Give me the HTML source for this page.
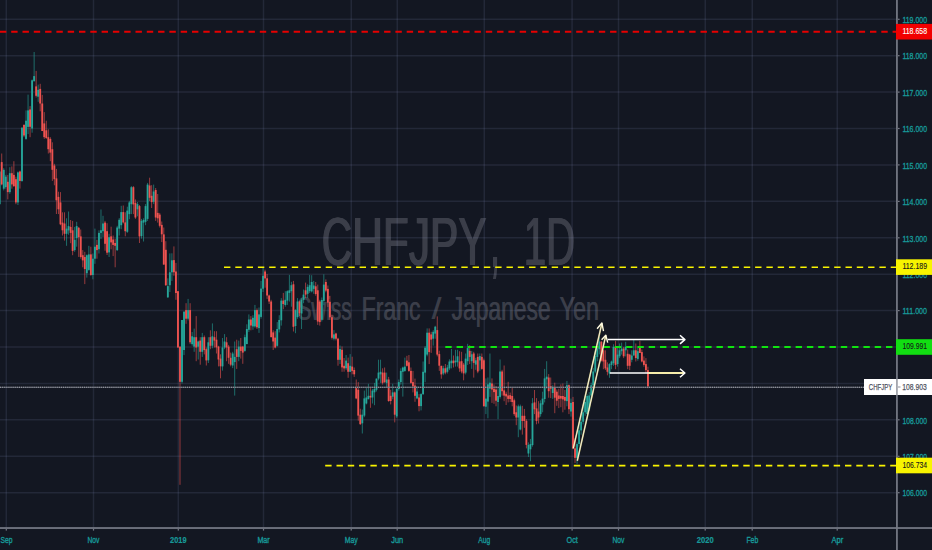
<!DOCTYPE html>
<html lang="en"><head><meta charset="utf-8"><title>CHFJPY 1D</title><style>html,body{margin:0;padding:0;background:#131722;overflow:hidden}body{width:932px;height:550px;font-family:"Liberation Sans",sans-serif}</style></head><body><svg width="932" height="550" viewBox="0 0 932 550" style="display:block">
<rect width="932" height="550" fill="#131722"/>
<text x="320.95" y="265.1" font-size="68.5" fill="#3b3e49" font-family="Liberation Sans, sans-serif" textLength="165.0" lengthAdjust="spacingAndGlyphs">CHFJPY</text>
<text x="321.6" y="265.1" font-size="68.5" fill="#3b3e49" font-family="Liberation Sans, sans-serif" textLength="165.0" lengthAdjust="spacingAndGlyphs">CHFJPY</text>
<text x="322.25" y="265.1" font-size="68.5" fill="#3b3e49" font-family="Liberation Sans, sans-serif" textLength="165.0" lengthAdjust="spacingAndGlyphs">CHFJPY</text>
<text x="490.1" y="267.0" font-size="92" fill="#3b3e49" font-family="Liberation Sans, sans-serif" textLength="9" lengthAdjust="spacingAndGlyphs">,</text>
<text x="491.1" y="267.0" font-size="92" fill="#3b3e49" font-family="Liberation Sans, sans-serif" textLength="9" lengthAdjust="spacingAndGlyphs">,</text>
<text x="523.15" y="265.1" font-size="68.5" fill="#3b3e49" font-family="Liberation Sans, sans-serif" textLength="51.2" lengthAdjust="spacingAndGlyphs">1D</text>
<text x="523.8" y="265.1" font-size="68.5" fill="#3b3e49" font-family="Liberation Sans, sans-serif" textLength="51.2" lengthAdjust="spacingAndGlyphs">1D</text>
<text x="524.45" y="265.1" font-size="68.5" fill="#3b3e49" font-family="Liberation Sans, sans-serif" textLength="51.2" lengthAdjust="spacingAndGlyphs">1D</text>
<text x="297.3" y="319.8" font-size="32.5" fill="#3b3e49" font-family="Liberation Sans, sans-serif" textLength="54.0" lengthAdjust="spacingAndGlyphs">Swiss</text>
<text x="297.9" y="319.8" font-size="32.5" fill="#3b3e49" font-family="Liberation Sans, sans-serif" textLength="54.0" lengthAdjust="spacingAndGlyphs">Swiss</text>
<text x="361.3" y="319.8" font-size="32.5" fill="#3b3e49" font-family="Liberation Sans, sans-serif" textLength="59.0" lengthAdjust="spacingAndGlyphs">Franc</text>
<text x="361.9" y="319.8" font-size="32.5" fill="#3b3e49" font-family="Liberation Sans, sans-serif" textLength="59.0" lengthAdjust="spacingAndGlyphs">Franc</text>
<text x="431.4" y="318.5" font-size="29" fill="#3b3e49" font-family="Liberation Sans, sans-serif" textLength="9.6" lengthAdjust="spacingAndGlyphs">/</text>
<text x="432.0" y="318.5" font-size="29" fill="#3b3e49" font-family="Liberation Sans, sans-serif" textLength="9.6" lengthAdjust="spacingAndGlyphs">/</text>
<text x="451.3" y="319.8" font-size="32.5" fill="#3b3e49" font-family="Liberation Sans, sans-serif" textLength="99.0" lengthAdjust="spacingAndGlyphs">Japanese</text>
<text x="451.9" y="319.8" font-size="32.5" fill="#3b3e49" font-family="Liberation Sans, sans-serif" textLength="99.0" lengthAdjust="spacingAndGlyphs">Japanese</text>
<text x="559.3" y="319.8" font-size="32.5" fill="#3b3e49" font-family="Liberation Sans, sans-serif" textLength="39.4" lengthAdjust="spacingAndGlyphs">Yen</text>
<text x="559.9" y="319.8" font-size="32.5" fill="#3b3e49" font-family="Liberation Sans, sans-serif" textLength="39.4" lengthAdjust="spacingAndGlyphs">Yen</text>
<g stroke="#8f9bd0" stroke-opacity="0.13" stroke-width="1.5">
<line x1="0" x2="897" y1="492.68" y2="492.68"/>
<line x1="0" x2="897" y1="456.26" y2="456.26"/>
<line x1="0" x2="897" y1="419.85" y2="419.85"/>
<line x1="0" x2="897" y1="383.44" y2="383.44"/>
<line x1="0" x2="897" y1="347.02" y2="347.02"/>
<line x1="0" x2="897" y1="310.61" y2="310.61"/>
<line x1="0" x2="897" y1="274.19" y2="274.19"/>
<line x1="0" x2="897" y1="237.77" y2="237.77"/>
<line x1="0" x2="897" y1="201.36" y2="201.36"/>
<line x1="0" x2="897" y1="164.94" y2="164.94"/>
<line x1="0" x2="897" y1="128.53" y2="128.53"/>
<line x1="0" x2="897" y1="92.12" y2="92.12"/>
<line x1="0" x2="897" y1="55.7" y2="55.7"/>
<line x1="0" x2="897" y1="19.29" y2="19.29"/>
<line x1="6.3" x2="6.3" y1="0" y2="528"/>
<line x1="93.5" x2="93.5" y1="0" y2="528"/>
<line x1="178.3" x2="178.3" y1="0" y2="528"/>
<line x1="263.5" x2="263.5" y1="0" y2="528"/>
<line x1="351.25" x2="351.25" y1="0" y2="528"/>
<line x1="397.25" x2="397.25" y1="0" y2="528"/>
<line x1="484.25" x2="484.25" y1="0" y2="528"/>
<line x1="572.1" x2="572.1" y1="0" y2="528"/>
<line x1="618.5" x2="618.5" y1="0" y2="528"/>
<line x1="705.25" x2="705.25" y1="0" y2="528"/>
<line x1="752.25" x2="752.25" y1="0" y2="528"/>
<line x1="837.25" x2="837.25" y1="0" y2="528"/>
</g>
<g opacity="0.6" shape-rendering="auto"><rect x="-0.81" y="171.5" width="1" height="33.5" fill="#26a69a"/><rect x="1.22" y="153.5" width="1" height="31.8" fill="#ef5350"/><rect x="3.25" y="168.1" width="1" height="22.3" fill="#26a69a"/><rect x="5.27" y="174.9" width="1" height="13.7" fill="#26a69a"/><rect x="7.30" y="174.9" width="1" height="24.5" fill="#ef5350"/><rect x="9.32" y="167.2" width="1" height="26.6" fill="#26a69a"/><rect x="11.35" y="166.4" width="1" height="22.3" fill="#ef5350"/><rect x="13.37" y="161.2" width="1" height="25.8" fill="#ef5350"/><rect x="15.40" y="176.7" width="1" height="27.5" fill="#ef5350"/><rect x="17.43" y="171.5" width="1" height="33.5" fill="#26a69a"/><rect x="19.45" y="170.6" width="1" height="18.0" fill="#ef5350"/><rect x="21.48" y="127.6" width="1" height="54.2" fill="#26a69a"/><rect x="23.50" y="124.1" width="1" height="13.0" fill="#ef5350"/><rect x="25.53" y="110.4" width="1" height="29.4" fill="#26a69a"/><rect x="27.56" y="94.6" width="1" height="39.5" fill="#26a69a"/><rect x="29.58" y="106.1" width="1" height="31.1" fill="#ef5350"/><rect x="31.61" y="79.5" width="1" height="53.2" fill="#26a69a"/><rect x="33.63" y="52.0" width="1" height="29.2" fill="#26a69a"/><rect x="35.66" y="70.9" width="1" height="26.6" fill="#ef5350"/><rect x="37.68" y="84.6" width="1" height="17.2" fill="#26a69a"/><rect x="39.71" y="83.8" width="1" height="27.5" fill="#ef5350"/><rect x="41.74" y="94.9" width="1" height="36.2" fill="#ef5350"/><rect x="43.76" y="112.1" width="1" height="26.8" fill="#ef5350"/><rect x="45.79" y="120.7" width="1" height="18.2" fill="#ef5350"/><rect x="47.81" y="129.3" width="1" height="24.2" fill="#ef5350"/><rect x="49.84" y="137.2" width="1" height="24.0" fill="#ef5350"/><rect x="51.86" y="142.3" width="1" height="38.6" fill="#ef5350"/><rect x="53.89" y="163.8" width="1" height="21.5" fill="#ef5350"/><rect x="55.92" y="168.9" width="1" height="45.1" fill="#ef5350"/><rect x="57.94" y="191.7" width="1" height="22.4" fill="#ef5350"/><rect x="59.97" y="192.1" width="1" height="33.1" fill="#ef5350"/><rect x="61.99" y="212.3" width="1" height="23.2" fill="#ef5350"/><rect x="64.02" y="212.3" width="1" height="28.3" fill="#ef5350"/><rect x="66.05" y="218.3" width="1" height="27.5" fill="#26a69a"/><rect x="68.07" y="211.5" width="1" height="23.2" fill="#26a69a"/><rect x="70.10" y="220.0" width="1" height="23.2" fill="#ef5350"/><rect x="72.12" y="220.9" width="1" height="34.3" fill="#ef5350"/><rect x="74.15" y="226.9" width="1" height="24.9" fill="#26a69a"/><rect x="76.17" y="221.8" width="1" height="24.9" fill="#26a69a"/><rect x="78.20" y="226.9" width="1" height="30.0" fill="#ef5350"/><rect x="80.23" y="229.5" width="1" height="29.2" fill="#ef5350"/><rect x="82.25" y="250.1" width="1" height="17.2" fill="#ef5350"/><rect x="84.28" y="251.8" width="1" height="32.3" fill="#ef5350"/><rect x="86.30" y="254.4" width="1" height="23.2" fill="#26a69a"/><rect x="88.33" y="245.8" width="1" height="24.9" fill="#26a69a"/><rect x="90.36" y="246.7" width="1" height="29.2" fill="#ef5350"/><rect x="92.38" y="253.5" width="1" height="25.8" fill="#26a69a"/><rect x="94.41" y="228.6" width="1" height="35.2" fill="#26a69a"/><rect x="96.43" y="239.8" width="1" height="18.9" fill="#ef5350"/><rect x="98.46" y="230.3" width="1" height="23.2" fill="#26a69a"/><rect x="100.48" y="209.5" width="1" height="29.4" fill="#26a69a"/><rect x="102.51" y="215.8" width="1" height="21.2" fill="#26a69a"/><rect x="104.54" y="220.9" width="1" height="29.8" fill="#ef5350"/><rect x="106.56" y="223.2" width="1" height="31.8" fill="#ef5350"/><rect x="108.59" y="233.8" width="1" height="23.2" fill="#26a69a"/><rect x="110.61" y="226.7" width="1" height="22.6" fill="#ef5350"/><rect x="112.64" y="235.5" width="1" height="20.6" fill="#ef5350"/><rect x="114.66" y="238.7" width="1" height="28.6" fill="#ef5350"/><rect x="116.69" y="225.8" width="1" height="25.2" fill="#26a69a"/><rect x="118.72" y="218.1" width="1" height="17.4" fill="#26a69a"/><rect x="120.74" y="205.8" width="1" height="23.4" fill="#26a69a"/><rect x="122.77" y="205.5" width="1" height="18.0" fill="#ef5350"/><rect x="124.79" y="212.3" width="1" height="24.0" fill="#ef5350"/><rect x="126.82" y="206.7" width="1" height="26.2" fill="#26a69a"/><rect x="128.85" y="200.9" width="1" height="18.3" fill="#26a69a"/><rect x="130.87" y="186.1" width="1" height="28.0" fill="#26a69a"/><rect x="132.90" y="186.1" width="1" height="28.0" fill="#ef5350"/><rect x="134.92" y="199.4" width="1" height="19.5" fill="#ef5350"/><rect x="136.95" y="202.0" width="1" height="14.3" fill="#26a69a"/><rect x="138.97" y="205.0" width="1" height="38.0" fill="#ef5350"/><rect x="141.00" y="218.9" width="1" height="19.7" fill="#26a69a"/><rect x="143.03" y="218.3" width="1" height="23.2" fill="#26a69a"/><rect x="145.05" y="204.1" width="1" height="21.1" fill="#26a69a"/><rect x="147.08" y="182.9" width="1" height="38.0" fill="#26a69a"/><rect x="149.10" y="177.7" width="1" height="23.4" fill="#ef5350"/><rect x="151.13" y="185.2" width="1" height="22.8" fill="#ef5350"/><rect x="153.15" y="184.6" width="1" height="19.5" fill="#26a69a"/><rect x="155.18" y="188.0" width="1" height="32.9" fill="#ef5350"/><rect x="157.21" y="194.0" width="1" height="28.6" fill="#ef5350"/><rect x="159.23" y="212.9" width="1" height="14.6" fill="#ef5350"/><rect x="161.26" y="221.5" width="1" height="20.6" fill="#ef5350"/><rect x="163.28" y="227.5" width="1" height="37.1" fill="#ef5350"/><rect x="165.31" y="241.2" width="1" height="44.8" fill="#ef5350"/><rect x="167.34" y="278.3" width="1" height="19.7" fill="#26a69a"/><rect x="169.36" y="253.4" width="1" height="38.6" fill="#26a69a"/><rect x="171.39" y="253.3" width="1" height="27.6" fill="#26a69a"/><rect x="173.41" y="246.4" width="1" height="29.4" fill="#ef5350"/><rect x="175.44" y="262.9" width="1" height="36.9" fill="#ef5350"/><rect x="177.46" y="291.2" width="1" height="56.3" fill="#ef5350"/><rect x="179.49" y="346.6" width="1" height="138.2" fill="#ef5350"/><rect x="181.52" y="320.0" width="1" height="63.5" fill="#26a69a"/><rect x="183.54" y="310.9" width="1" height="44.2" fill="#26a69a"/><rect x="185.57" y="303.2" width="1" height="20.6" fill="#ef5350"/><rect x="187.59" y="298.9" width="1" height="21.5" fill="#26a69a"/><rect x="189.62" y="303.2" width="1" height="40.9" fill="#ef5350"/><rect x="191.65" y="332.0" width="1" height="13.7" fill="#26a69a"/><rect x="193.67" y="328.6" width="1" height="23.2" fill="#26a69a"/><rect x="195.70" y="316.1" width="1" height="45.1" fill="#ef5350"/><rect x="197.72" y="340.6" width="1" height="18.9" fill="#26a69a"/><rect x="199.75" y="337.2" width="1" height="27.5" fill="#ef5350"/><rect x="201.77" y="332.9" width="1" height="24.0" fill="#26a69a"/><rect x="203.80" y="335.5" width="1" height="18.9" fill="#ef5350"/><rect x="205.83" y="347.5" width="1" height="18.0" fill="#ef5350"/><rect x="207.85" y="337.2" width="1" height="25.8" fill="#26a69a"/><rect x="209.88" y="330.3" width="1" height="18.9" fill="#ef5350"/><rect x="211.90" y="323.4" width="1" height="24.9" fill="#26a69a"/><rect x="213.93" y="331.2" width="1" height="16.3" fill="#ef5350"/><rect x="215.95" y="331.2" width="1" height="22.3" fill="#ef5350"/><rect x="217.98" y="345.8" width="1" height="20.6" fill="#ef5350"/><rect x="220.01" y="354.3" width="1" height="24.0" fill="#ef5350"/><rect x="222.03" y="338.0" width="1" height="32.6" fill="#26a69a"/><rect x="224.06" y="334.1" width="1" height="15.1" fill="#26a69a"/><rect x="226.08" y="337.2" width="1" height="24.0" fill="#ef5350"/><rect x="228.11" y="344.9" width="1" height="18.9" fill="#ef5350"/><rect x="230.14" y="352.6" width="1" height="13.7" fill="#ef5350"/><rect x="232.16" y="351.8" width="1" height="16.3" fill="#26a69a"/><rect x="234.19" y="341.5" width="1" height="54.1" fill="#26a69a"/><rect x="236.21" y="339.7" width="1" height="29.2" fill="#ef5350"/><rect x="238.24" y="340.6" width="1" height="20.6" fill="#26a69a"/><rect x="240.26" y="338.0" width="1" height="20.6" fill="#ef5350"/><rect x="242.29" y="345.8" width="1" height="18.0" fill="#ef5350"/><rect x="244.32" y="334.6" width="1" height="17.2" fill="#26a69a"/><rect x="246.34" y="324.3" width="1" height="19.8" fill="#26a69a"/><rect x="248.37" y="314.4" width="1" height="17.6" fill="#26a69a"/><rect x="250.39" y="316.1" width="1" height="14.2" fill="#ef5350"/><rect x="252.42" y="315.2" width="1" height="14.6" fill="#26a69a"/><rect x="254.44" y="304.9" width="1" height="22.8" fill="#26a69a"/><rect x="256.47" y="308.4" width="1" height="20.6" fill="#ef5350"/><rect x="258.50" y="307.5" width="1" height="25.4" fill="#26a69a"/><rect x="260.52" y="280.9" width="1" height="37.8" fill="#26a69a"/><rect x="262.55" y="268.0" width="1" height="24.0" fill="#26a69a"/><rect x="264.57" y="269.7" width="1" height="18.0" fill="#ef5350"/><rect x="266.60" y="274.0" width="1" height="24.9" fill="#ef5350"/><rect x="268.63" y="294.6" width="1" height="9.4" fill="#ef5350"/><rect x="270.65" y="299.8" width="1" height="37.4" fill="#ef5350"/><rect x="272.68" y="330.3" width="1" height="19.7" fill="#ef5350"/><rect x="274.70" y="331.2" width="1" height="17.2" fill="#ef5350"/><rect x="276.73" y="322.1" width="1" height="24.5" fill="#26a69a"/><rect x="278.75" y="315.2" width="1" height="17.2" fill="#26a69a"/><rect x="280.78" y="298.1" width="1" height="27.5" fill="#26a69a"/><rect x="282.81" y="292.9" width="1" height="16.3" fill="#ef5350"/><rect x="284.83" y="291.2" width="1" height="15.5" fill="#26a69a"/><rect x="286.86" y="290.3" width="1" height="14.6" fill="#26a69a"/><rect x="288.88" y="274.9" width="1" height="26.6" fill="#26a69a"/><rect x="290.91" y="281.8" width="1" height="24.9" fill="#26a69a"/><rect x="292.94" y="280.9" width="1" height="50.6" fill="#ef5350"/><rect x="294.96" y="309.2" width="1" height="24.0" fill="#26a69a"/><rect x="296.99" y="298.1" width="1" height="20.6" fill="#26a69a"/><rect x="299.01" y="300.6" width="1" height="15.5" fill="#ef5350"/><rect x="301.04" y="298.1" width="1" height="30.9" fill="#26a69a"/><rect x="303.06" y="289.5" width="1" height="13.7" fill="#26a69a"/><rect x="305.09" y="282.6" width="1" height="15.5" fill="#ef5350"/><rect x="307.12" y="284.3" width="1" height="13.7" fill="#26a69a"/><rect x="309.14" y="274.9" width="1" height="18.0" fill="#26a69a"/><rect x="311.17" y="275.2" width="1" height="17.2" fill="#26a69a"/><rect x="313.19" y="280.9" width="1" height="12.9" fill="#26a69a"/><rect x="315.22" y="282.0" width="1" height="13.7" fill="#ef5350"/><rect x="317.24" y="284.6" width="1" height="40.3" fill="#ef5350"/><rect x="319.27" y="299.8" width="1" height="25.8" fill="#ef5350"/><rect x="321.30" y="297.5" width="1" height="24.0" fill="#26a69a"/><rect x="323.32" y="274.3" width="1" height="30.9" fill="#26a69a"/><rect x="325.35" y="279.4" width="1" height="12.9" fill="#ef5350"/><rect x="327.37" y="285.5" width="1" height="21.5" fill="#ef5350"/><rect x="329.40" y="295.8" width="1" height="24.0" fill="#ef5350"/><rect x="331.43" y="314.6" width="1" height="24.9" fill="#ef5350"/><rect x="333.45" y="330.1" width="1" height="10.3" fill="#26a69a"/><rect x="335.48" y="332.7" width="1" height="7.7" fill="#ef5350"/><rect x="337.50" y="337.8" width="1" height="27.9" fill="#ef5350"/><rect x="339.53" y="345.5" width="1" height="18.5" fill="#26a69a"/><rect x="341.55" y="346.4" width="1" height="25.4" fill="#ef5350"/><rect x="343.58" y="358.0" width="1" height="13.7" fill="#ef5350"/><rect x="345.61" y="355.0" width="1" height="15.1" fill="#26a69a"/><rect x="347.63" y="357.6" width="1" height="20.2" fill="#ef5350"/><rect x="349.66" y="354.1" width="1" height="17.6" fill="#26a69a"/><rect x="351.68" y="356.7" width="1" height="17.6" fill="#ef5350"/><rect x="353.71" y="367.5" width="1" height="9.4" fill="#ef5350"/><rect x="355.74" y="379.5" width="1" height="19.7" fill="#ef5350"/><rect x="357.76" y="382.1" width="1" height="38.6" fill="#ef5350"/><rect x="359.79" y="408.7" width="1" height="16.3" fill="#ef5350"/><rect x="361.81" y="409.5" width="1" height="24.0" fill="#26a69a"/><rect x="363.84" y="390.6" width="1" height="26.6" fill="#26a69a"/><rect x="365.86" y="388.1" width="1" height="16.3" fill="#26a69a"/><rect x="367.89" y="383.8" width="1" height="15.5" fill="#26a69a"/><rect x="369.92" y="388.1" width="1" height="19.7" fill="#ef5350"/><rect x="371.94" y="388.9" width="1" height="14.6" fill="#26a69a"/><rect x="373.97" y="382.9" width="1" height="22.3" fill="#26a69a"/><rect x="375.99" y="378.6" width="1" height="12.9" fill="#26a69a"/><rect x="378.02" y="359.7" width="1" height="20.6" fill="#26a69a"/><rect x="380.04" y="359.7" width="1" height="23.2" fill="#26a69a"/><rect x="382.07" y="368.3" width="1" height="16.3" fill="#ef5350"/><rect x="384.10" y="367.5" width="1" height="15.5" fill="#ef5350"/><rect x="386.12" y="372.6" width="1" height="14.6" fill="#26a69a"/><rect x="388.15" y="376.9" width="1" height="24.9" fill="#ef5350"/><rect x="390.17" y="389.8" width="1" height="14.6" fill="#ef5350"/><rect x="392.20" y="383.8" width="1" height="15.5" fill="#26a69a"/><rect x="394.23" y="391.5" width="1" height="30.9" fill="#ef5350"/><rect x="396.25" y="388.1" width="1" height="30.0" fill="#26a69a"/><rect x="398.28" y="379.5" width="1" height="11.2" fill="#26a69a"/><rect x="400.30" y="368.3" width="1" height="16.3" fill="#26a69a"/><rect x="402.33" y="366.6" width="1" height="30.0" fill="#26a69a"/><rect x="404.35" y="357.6" width="1" height="14.2" fill="#26a69a"/><rect x="406.38" y="355.8" width="1" height="10.8" fill="#ef5350"/><rect x="408.41" y="355.0" width="1" height="16.8" fill="#ef5350"/><rect x="410.43" y="367.5" width="1" height="16.3" fill="#ef5350"/><rect x="412.46" y="370.9" width="1" height="21.5" fill="#ef5350"/><rect x="414.48" y="378.6" width="1" height="23.2" fill="#ef5350"/><rect x="416.51" y="386.4" width="1" height="12.9" fill="#26a69a"/><rect x="418.53" y="394.1" width="1" height="17.2" fill="#ef5350"/><rect x="420.56" y="393.2" width="1" height="17.2" fill="#26a69a"/><rect x="422.59" y="361.5" width="1" height="33.5" fill="#26a69a"/><rect x="424.61" y="346.0" width="1" height="36.1" fill="#26a69a"/><rect x="426.64" y="328.4" width="1" height="27.9" fill="#26a69a"/><rect x="428.66" y="328.4" width="1" height="35.7" fill="#ef5350"/><rect x="430.69" y="331.8" width="1" height="21.1" fill="#ef5350"/><rect x="432.72" y="330.1" width="1" height="15.5" fill="#26a69a"/><rect x="434.74" y="325.8" width="1" height="12.9" fill="#26a69a"/><rect x="436.77" y="316.4" width="1" height="40.0" fill="#ef5350"/><rect x="438.79" y="350.7" width="1" height="20.2" fill="#ef5350"/><rect x="440.82" y="365.8" width="1" height="12.9" fill="#ef5350"/><rect x="442.84" y="365.8" width="1" height="9.4" fill="#26a69a"/><rect x="444.87" y="364.0" width="1" height="10.3" fill="#ef5350"/><rect x="446.90" y="364.9" width="1" height="8.6" fill="#26a69a"/><rect x="448.92" y="359.3" width="1" height="10.8" fill="#26a69a"/><rect x="450.95" y="349.0" width="1" height="19.4" fill="#26a69a"/><rect x="452.97" y="355.5" width="1" height="12.0" fill="#ef5350"/><rect x="455.00" y="349.8" width="1" height="16.8" fill="#26a69a"/><rect x="457.02" y="349.8" width="1" height="16.8" fill="#26a69a"/><rect x="459.05" y="351.2" width="1" height="20.6" fill="#ef5350"/><rect x="461.08" y="351.8" width="1" height="21.5" fill="#ef5350"/><rect x="463.10" y="362.9" width="1" height="17.4" fill="#ef5350"/><rect x="465.13" y="353.5" width="1" height="20.9" fill="#26a69a"/><rect x="467.15" y="343.8" width="1" height="21.1" fill="#26a69a"/><rect x="469.18" y="345.2" width="1" height="18.9" fill="#ef5350"/><rect x="471.21" y="350.9" width="1" height="18.0" fill="#26a69a"/><rect x="473.23" y="351.8" width="1" height="25.8" fill="#ef5350"/><rect x="475.26" y="357.8" width="1" height="12.0" fill="#26a69a"/><rect x="477.28" y="353.5" width="1" height="19.7" fill="#ef5350"/><rect x="479.31" y="353.5" width="1" height="17.2" fill="#26a69a"/><rect x="481.33" y="353.5" width="1" height="16.3" fill="#ef5350"/><rect x="483.36" y="358.6" width="1" height="47.7" fill="#ef5350"/><rect x="485.39" y="378.4" width="1" height="35.7" fill="#26a69a"/><rect x="487.41" y="377.5" width="1" height="40.8" fill="#26a69a"/><rect x="489.44" y="353.5" width="1" height="43.4" fill="#26a69a"/><rect x="491.46" y="378.4" width="1" height="24.5" fill="#ef5350"/><rect x="493.49" y="384.4" width="1" height="19.4" fill="#ef5350"/><rect x="495.52" y="386.1" width="1" height="20.2" fill="#ef5350"/><rect x="497.54" y="387.8" width="1" height="31.4" fill="#26a69a"/><rect x="499.57" y="359.5" width="1" height="39.1" fill="#26a69a"/><rect x="501.59" y="369.8" width="1" height="25.8" fill="#ef5350"/><rect x="503.62" y="365.5" width="1" height="35.7" fill="#ef5350"/><rect x="505.64" y="391.7" width="1" height="13.3" fill="#ef5350"/><rect x="507.67" y="381.8" width="1" height="20.6" fill="#ef5350"/><rect x="509.70" y="392.6" width="1" height="9.4" fill="#ef5350"/><rect x="511.72" y="387.8" width="1" height="18.5" fill="#ef5350"/><rect x="513.75" y="398.6" width="1" height="17.2" fill="#ef5350"/><rect x="515.77" y="405.5" width="1" height="19.7" fill="#ef5350"/><rect x="517.80" y="404.6" width="1" height="32.6" fill="#26a69a"/><rect x="519.82" y="404.6" width="1" height="25.8" fill="#26a69a"/><rect x="521.85" y="405.8" width="1" height="28.8" fill="#ef5350"/><rect x="523.88" y="408.9" width="1" height="18.9" fill="#ef5350"/><rect x="525.90" y="419.2" width="1" height="29.2" fill="#ef5350"/><rect x="527.93" y="442.4" width="1" height="14.6" fill="#26a69a"/><rect x="529.95" y="438.9" width="1" height="22.3" fill="#26a69a"/><rect x="531.98" y="398.1" width="1" height="48.5" fill="#26a69a"/><rect x="534.01" y="390.0" width="1" height="24.1" fill="#ef5350"/><rect x="536.03" y="398.1" width="1" height="26.2" fill="#ef5350"/><rect x="538.06" y="401.2" width="1" height="22.3" fill="#ef5350"/><rect x="540.08" y="400.3" width="1" height="16.3" fill="#26a69a"/><rect x="542.11" y="391.7" width="1" height="20.6" fill="#26a69a"/><rect x="544.13" y="368.9" width="1" height="33.5" fill="#26a69a"/><rect x="546.16" y="361.2" width="1" height="27.5" fill="#26a69a"/><rect x="548.19" y="374.1" width="1" height="23.6" fill="#ef5350"/><rect x="550.21" y="377.5" width="1" height="20.6" fill="#ef5350"/><rect x="552.24" y="385.2" width="1" height="13.7" fill="#26a69a"/><rect x="554.26" y="382.7" width="1" height="30.5" fill="#ef5350"/><rect x="556.29" y="389.5" width="1" height="16.3" fill="#ef5350"/><rect x="558.31" y="388.7" width="1" height="19.4" fill="#ef5350"/><rect x="560.34" y="384.4" width="1" height="22.8" fill="#ef5350"/><rect x="562.37" y="383.5" width="1" height="28.8" fill="#ef5350"/><rect x="564.39" y="390.0" width="1" height="19.7" fill="#ef5350"/><rect x="566.42" y="380.9" width="1" height="25.4" fill="#26a69a"/><rect x="568.44" y="384.4" width="1" height="29.7" fill="#ef5350"/><rect x="570.47" y="398.6" width="1" height="18.0" fill="#26a69a"/><rect x="572.50" y="396.9" width="1" height="52.4" fill="#ef5350"/><rect x="574.52" y="438.1" width="1" height="24.9" fill="#ef5350"/><rect x="576.55" y="442.4" width="1" height="21.5" fill="#26a69a"/><rect x="578.57" y="424.3" width="1" height="22.3" fill="#26a69a"/><rect x="580.60" y="415.8" width="1" height="18.9" fill="#26a69a"/><rect x="582.62" y="407.2" width="1" height="17.2" fill="#26a69a"/><rect x="584.65" y="398.6" width="1" height="17.2" fill="#26a69a"/><rect x="586.68" y="394.3" width="1" height="19.8" fill="#26a69a"/><rect x="588.70" y="392.1" width="1" height="18.9" fill="#26a69a"/><rect x="590.73" y="382.7" width="1" height="18.0" fill="#26a69a"/><rect x="592.75" y="368.1" width="1" height="20.6" fill="#26a69a"/><rect x="594.78" y="350.9" width="1" height="22.3" fill="#26a69a"/><rect x="596.81" y="345.8" width="1" height="15.5" fill="#26a69a"/><rect x="598.83" y="337.2" width="1" height="17.2" fill="#26a69a"/><rect x="600.86" y="340.9" width="1" height="20.6" fill="#ef5350"/><rect x="602.88" y="349.5" width="1" height="19.7" fill="#ef5350"/><rect x="604.91" y="350.3" width="1" height="19.7" fill="#ef5350"/><rect x="606.93" y="362.4" width="1" height="12.9" fill="#ef5350"/><rect x="608.96" y="363.2" width="1" height="14.6" fill="#26a69a"/><rect x="610.99" y="360.6" width="1" height="8.6" fill="#26a69a"/><rect x="613.01" y="344.3" width="1" height="21.5" fill="#26a69a"/><rect x="615.04" y="340.9" width="1" height="28.3" fill="#ef5350"/><rect x="617.06" y="346.9" width="1" height="19.7" fill="#26a69a"/><rect x="619.09" y="343.5" width="1" height="14.6" fill="#26a69a"/><rect x="621.11" y="342.6" width="1" height="12.0" fill="#26a69a"/><rect x="623.14" y="346.9" width="1" height="11.2" fill="#ef5350"/><rect x="625.17" y="341.8" width="1" height="14.6" fill="#26a69a"/><rect x="627.19" y="349.5" width="1" height="19.7" fill="#ef5350"/><rect x="629.22" y="353.8" width="1" height="16.3" fill="#ef5350"/><rect x="631.24" y="350.3" width="1" height="12.0" fill="#26a69a"/><rect x="633.27" y="340.0" width="1" height="15.5" fill="#26a69a"/><rect x="635.30" y="343.5" width="1" height="18.0" fill="#ef5350"/><rect x="637.32" y="347.8" width="1" height="12.9" fill="#26a69a"/><rect x="639.35" y="340.9" width="1" height="12.0" fill="#ef5350"/><rect x="641.37" y="349.5" width="1" height="12.9" fill="#ef5350"/><rect x="643.40" y="356.4" width="1" height="10.3" fill="#ef5350"/><rect x="645.42" y="358.1" width="1" height="14.6" fill="#ef5350"/><rect x="647.45" y="366.7" width="1" height="21.5" fill="#ef5350"/></g>
<g><rect x="-1.23" y="171.5" width="1.84" height="32.6" fill="#26a69a"/><rect x="0.80" y="162.1" width="1.84" height="22.3" fill="#ef5350"/><rect x="2.83" y="169.8" width="1.84" height="18.9" fill="#26a69a"/><rect x="4.85" y="176.7" width="1.84" height="10.3" fill="#26a69a"/><rect x="6.88" y="181.8" width="1.84" height="10.3" fill="#ef5350"/><rect x="8.90" y="173.2" width="1.84" height="18.9" fill="#26a69a"/><rect x="10.93" y="173.2" width="1.84" height="11.2" fill="#ef5350"/><rect x="12.95" y="174.9" width="1.84" height="11.2" fill="#ef5350"/><rect x="14.98" y="179.2" width="1.84" height="23.2" fill="#ef5350"/><rect x="17.01" y="172.4" width="1.84" height="30.0" fill="#26a69a"/><rect x="19.03" y="171.5" width="1.84" height="9.4" fill="#ef5350"/><rect x="21.06" y="127.6" width="1.84" height="53.4" fill="#26a69a"/><rect x="23.08" y="125.0" width="1.84" height="10.5" fill="#ef5350"/><rect x="25.11" y="120.7" width="1.84" height="18.2" fill="#26a69a"/><rect x="27.14" y="110.4" width="1.84" height="16.5" fill="#26a69a"/><rect x="29.16" y="109.5" width="1.84" height="17.3" fill="#ef5350"/><rect x="31.19" y="80.3" width="1.84" height="48.2" fill="#26a69a"/><rect x="33.21" y="76.1" width="1.84" height="5.2" fill="#26a69a"/><rect x="35.24" y="86.4" width="1.84" height="9.4" fill="#ef5350"/><rect x="37.26" y="89.8" width="1.84" height="6.9" fill="#26a69a"/><rect x="39.29" y="88.9" width="1.84" height="14.6" fill="#ef5350"/><rect x="41.32" y="103.5" width="1.84" height="27.5" fill="#ef5350"/><rect x="43.34" y="123.4" width="1.84" height="13.7" fill="#ef5350"/><rect x="45.37" y="130.3" width="1.84" height="7.7" fill="#ef5350"/><rect x="47.39" y="137.2" width="1.84" height="12.0" fill="#ef5350"/><rect x="49.42" y="138.9" width="1.84" height="13.7" fill="#ef5350"/><rect x="51.44" y="149.2" width="1.84" height="20.6" fill="#ef5350"/><rect x="53.47" y="165.5" width="1.84" height="13.7" fill="#ef5350"/><rect x="55.50" y="178.4" width="1.84" height="21.9" fill="#ef5350"/><rect x="57.52" y="196.9" width="1.84" height="12.4" fill="#ef5350"/><rect x="59.55" y="202.4" width="1.84" height="21.9" fill="#ef5350"/><rect x="61.57" y="222.6" width="1.84" height="7.7" fill="#ef5350"/><rect x="63.60" y="223.5" width="1.84" height="10.3" fill="#ef5350"/><rect x="65.63" y="228.6" width="1.84" height="5.2" fill="#26a69a"/><rect x="67.65" y="226.1" width="1.84" height="4.3" fill="#26a69a"/><rect x="69.68" y="226.9" width="1.84" height="6.0" fill="#ef5350"/><rect x="71.70" y="230.3" width="1.84" height="20.6" fill="#ef5350"/><rect x="73.73" y="239.8" width="1.84" height="10.3" fill="#26a69a"/><rect x="75.75" y="226.1" width="1.84" height="12.0" fill="#26a69a"/><rect x="77.78" y="227.8" width="1.84" height="9.4" fill="#ef5350"/><rect x="79.81" y="236.4" width="1.84" height="20.6" fill="#ef5350"/><rect x="81.83" y="255.2" width="1.84" height="5.2" fill="#ef5350"/><rect x="83.86" y="257.0" width="1.84" height="12.0" fill="#ef5350"/><rect x="85.88" y="255.2" width="1.84" height="18.0" fill="#26a69a"/><rect x="87.91" y="254.4" width="1.84" height="15.5" fill="#26a69a"/><rect x="89.94" y="254.4" width="1.84" height="20.6" fill="#ef5350"/><rect x="91.96" y="258.7" width="1.84" height="16.3" fill="#26a69a"/><rect x="93.99" y="246.7" width="1.84" height="12.0" fill="#26a69a"/><rect x="96.01" y="244.9" width="1.84" height="5.2" fill="#ef5350"/><rect x="98.04" y="232.9" width="1.84" height="16.3" fill="#26a69a"/><rect x="100.06" y="230.3" width="1.84" height="2.6" fill="#26a69a"/><rect x="102.09" y="223.5" width="1.84" height="7.7" fill="#26a69a"/><rect x="104.12" y="222.6" width="1.84" height="21.2" fill="#ef5350"/><rect x="106.14" y="231.2" width="1.84" height="21.5" fill="#ef5350"/><rect x="108.17" y="237.2" width="1.84" height="15.2" fill="#26a69a"/><rect x="110.19" y="236.4" width="1.84" height="6.0" fill="#ef5350"/><rect x="112.22" y="239.5" width="1.84" height="5.4" fill="#ef5350"/><rect x="114.24" y="243.0" width="1.84" height="2.8" fill="#ef5350"/><rect x="116.27" y="227.5" width="1.84" height="22.6" fill="#26a69a"/><rect x="118.30" y="219.8" width="1.84" height="8.8" fill="#26a69a"/><rect x="120.32" y="212.1" width="1.84" height="13.1" fill="#26a69a"/><rect x="122.35" y="212.1" width="1.84" height="10.3" fill="#ef5350"/><rect x="124.37" y="222.4" width="1.84" height="8.8" fill="#ef5350"/><rect x="126.40" y="210.6" width="1.84" height="21.2" fill="#26a69a"/><rect x="128.43" y="202.4" width="1.84" height="11.7" fill="#26a69a"/><rect x="130.45" y="187.2" width="1.84" height="17.0" fill="#26a69a"/><rect x="132.48" y="187.2" width="1.84" height="17.2" fill="#ef5350"/><rect x="134.50" y="202.9" width="1.84" height="14.6" fill="#ef5350"/><rect x="136.53" y="204.1" width="1.84" height="5.2" fill="#26a69a"/><rect x="138.55" y="206.1" width="1.84" height="30.3" fill="#ef5350"/><rect x="140.58" y="220.9" width="1.84" height="15.2" fill="#26a69a"/><rect x="142.61" y="220.0" width="1.84" height="2.6" fill="#26a69a"/><rect x="144.63" y="206.1" width="1.84" height="15.7" fill="#26a69a"/><rect x="146.66" y="184.6" width="1.84" height="34.3" fill="#26a69a"/><rect x="148.68" y="185.5" width="1.84" height="12.3" fill="#ef5350"/><rect x="150.71" y="195.8" width="1.84" height="6.3" fill="#ef5350"/><rect x="152.73" y="191.5" width="1.84" height="10.3" fill="#26a69a"/><rect x="154.76" y="190.0" width="1.84" height="27.5" fill="#ef5350"/><rect x="156.79" y="212.9" width="1.84" height="5.4" fill="#ef5350"/><rect x="158.81" y="214.6" width="1.84" height="11.2" fill="#ef5350"/><rect x="160.84" y="224.9" width="1.84" height="9.4" fill="#ef5350"/><rect x="162.86" y="234.4" width="1.84" height="30.2" fill="#ef5350"/><rect x="164.89" y="249.8" width="1.84" height="35.4" fill="#ef5350"/><rect x="166.92" y="286.1" width="1.84" height="11.2" fill="#26a69a"/><rect x="168.94" y="272.3" width="1.84" height="12.9" fill="#26a69a"/><rect x="170.97" y="260.3" width="1.84" height="12.0" fill="#26a69a"/><rect x="172.99" y="260.1" width="1.84" height="12.2" fill="#ef5350"/><rect x="175.02" y="271.5" width="1.84" height="21.5" fill="#ef5350"/><rect x="177.04" y="291.2" width="1.84" height="56.3" fill="#ef5350"/><rect x="179.07" y="346.6" width="1.84" height="35.2" fill="#ef5350"/><rect x="181.10" y="320.0" width="1.84" height="61.8" fill="#26a69a"/><rect x="183.12" y="311.8" width="1.84" height="38.2" fill="#26a69a"/><rect x="185.15" y="310.1" width="1.84" height="8.6" fill="#ef5350"/><rect x="187.17" y="310.1" width="1.84" height="8.6" fill="#26a69a"/><rect x="189.20" y="310.1" width="1.84" height="32.2" fill="#ef5350"/><rect x="191.23" y="336.3" width="1.84" height="7.8" fill="#26a69a"/><rect x="193.25" y="337.2" width="1.84" height="9.4" fill="#26a69a"/><rect x="195.28" y="337.2" width="1.84" height="10.3" fill="#ef5350"/><rect x="197.30" y="341.5" width="1.84" height="5.2" fill="#26a69a"/><rect x="199.33" y="340.6" width="1.84" height="11.2" fill="#ef5350"/><rect x="201.35" y="337.2" width="1.84" height="14.6" fill="#26a69a"/><rect x="203.38" y="337.2" width="1.84" height="12.9" fill="#ef5350"/><rect x="205.41" y="349.2" width="1.84" height="11.2" fill="#ef5350"/><rect x="207.43" y="342.3" width="1.84" height="18.0" fill="#26a69a"/><rect x="209.46" y="337.2" width="1.84" height="8.6" fill="#ef5350"/><rect x="211.48" y="336.3" width="1.84" height="9.4" fill="#26a69a"/><rect x="213.51" y="337.2" width="1.84" height="3.4" fill="#ef5350"/><rect x="215.53" y="339.7" width="1.84" height="7.7" fill="#ef5350"/><rect x="217.56" y="346.6" width="1.84" height="12.9" fill="#ef5350"/><rect x="219.59" y="358.6" width="1.84" height="7.7" fill="#ef5350"/><rect x="221.61" y="347.5" width="1.84" height="18.9" fill="#26a69a"/><rect x="223.64" y="341.5" width="1.84" height="6.0" fill="#26a69a"/><rect x="225.66" y="342.3" width="1.84" height="5.2" fill="#ef5350"/><rect x="227.69" y="346.6" width="1.84" height="11.2" fill="#ef5350"/><rect x="229.72" y="357.8" width="1.84" height="6.9" fill="#ef5350"/><rect x="231.74" y="353.5" width="1.84" height="12.0" fill="#26a69a"/><rect x="233.77" y="356.9" width="1.84" height="5.2" fill="#26a69a"/><rect x="235.79" y="349.2" width="1.84" height="7.7" fill="#ef5350"/><rect x="237.82" y="346.6" width="1.84" height="10.3" fill="#26a69a"/><rect x="239.84" y="346.6" width="1.84" height="4.3" fill="#ef5350"/><rect x="241.87" y="346.6" width="1.84" height="6.0" fill="#ef5350"/><rect x="243.90" y="337.2" width="1.84" height="13.7" fill="#26a69a"/><rect x="245.92" y="329.0" width="1.84" height="15.1" fill="#26a69a"/><rect x="247.95" y="319.5" width="1.84" height="10.3" fill="#26a69a"/><rect x="249.97" y="319.5" width="1.84" height="6.0" fill="#ef5350"/><rect x="252.00" y="317.8" width="1.84" height="8.6" fill="#26a69a"/><rect x="254.02" y="310.1" width="1.84" height="16.3" fill="#26a69a"/><rect x="256.05" y="310.1" width="1.84" height="17.2" fill="#ef5350"/><rect x="258.08" y="314.4" width="1.84" height="13.7" fill="#26a69a"/><rect x="260.10" y="288.6" width="1.84" height="28.3" fill="#26a69a"/><rect x="262.13" y="275.8" width="1.84" height="12.9" fill="#26a69a"/><rect x="264.15" y="271.5" width="1.84" height="6.9" fill="#ef5350"/><rect x="266.18" y="278.3" width="1.84" height="17.2" fill="#ef5350"/><rect x="268.21" y="295.5" width="1.84" height="6.0" fill="#ef5350"/><rect x="270.23" y="301.5" width="1.84" height="35.7" fill="#ef5350"/><rect x="272.26" y="332.4" width="1.84" height="9.1" fill="#ef5350"/><rect x="274.28" y="337.6" width="1.84" height="9.9" fill="#ef5350"/><rect x="276.31" y="329.0" width="1.84" height="16.8" fill="#26a69a"/><rect x="278.33" y="320.0" width="1.84" height="9.4" fill="#26a69a"/><rect x="280.36" y="300.6" width="1.84" height="19.7" fill="#26a69a"/><rect x="282.39" y="300.6" width="1.84" height="3.4" fill="#ef5350"/><rect x="284.41" y="299.8" width="1.84" height="5.2" fill="#26a69a"/><rect x="286.44" y="291.2" width="1.84" height="9.4" fill="#26a69a"/><rect x="288.46" y="290.3" width="1.84" height="2.6" fill="#26a69a"/><rect x="290.49" y="285.2" width="1.84" height="6.0" fill="#26a69a"/><rect x="292.52" y="284.3" width="1.84" height="42.5" fill="#ef5350"/><rect x="294.54" y="310.1" width="1.84" height="15.9" fill="#26a69a"/><rect x="296.57" y="301.5" width="1.84" height="15.5" fill="#26a69a"/><rect x="298.59" y="301.5" width="1.84" height="12.0" fill="#ef5350"/><rect x="300.62" y="299.8" width="1.84" height="13.7" fill="#26a69a"/><rect x="302.64" y="294.6" width="1.84" height="5.2" fill="#26a69a"/><rect x="304.67" y="290.3" width="1.84" height="4.3" fill="#ef5350"/><rect x="306.70" y="286.9" width="1.84" height="6.9" fill="#26a69a"/><rect x="308.72" y="285.2" width="1.84" height="6.0" fill="#26a69a"/><rect x="310.75" y="282.0" width="1.84" height="9.4" fill="#26a69a"/><rect x="312.77" y="285.5" width="1.84" height="3.4" fill="#26a69a"/><rect x="314.80" y="286.3" width="1.84" height="7.7" fill="#ef5350"/><rect x="316.82" y="290.3" width="1.84" height="31.2" fill="#ef5350"/><rect x="318.85" y="301.5" width="1.84" height="20.6" fill="#ef5350"/><rect x="320.88" y="300.0" width="1.84" height="19.7" fill="#26a69a"/><rect x="322.90" y="284.6" width="1.84" height="16.3" fill="#26a69a"/><rect x="324.93" y="282.0" width="1.84" height="8.6" fill="#ef5350"/><rect x="326.95" y="288.9" width="1.84" height="13.7" fill="#ef5350"/><rect x="328.98" y="301.8" width="1.84" height="15.5" fill="#ef5350"/><rect x="331.01" y="317.2" width="1.84" height="20.6" fill="#ef5350"/><rect x="333.03" y="334.4" width="1.84" height="4.3" fill="#26a69a"/><rect x="335.06" y="333.5" width="1.84" height="5.2" fill="#ef5350"/><rect x="337.08" y="338.7" width="1.84" height="21.1" fill="#ef5350"/><rect x="339.11" y="349.0" width="1.84" height="10.8" fill="#26a69a"/><rect x="341.13" y="349.8" width="1.84" height="17.6" fill="#ef5350"/><rect x="343.16" y="365.8" width="1.84" height="2.6" fill="#ef5350"/><rect x="345.19" y="360.6" width="1.84" height="7.7" fill="#26a69a"/><rect x="347.21" y="363.2" width="1.84" height="8.6" fill="#ef5350"/><rect x="349.24" y="365.8" width="1.84" height="6.0" fill="#26a69a"/><rect x="351.26" y="366.6" width="1.84" height="4.3" fill="#ef5350"/><rect x="353.29" y="370.0" width="1.84" height="4.3" fill="#ef5350"/><rect x="355.31" y="388.1" width="1.84" height="10.3" fill="#ef5350"/><rect x="357.34" y="389.8" width="1.84" height="25.8" fill="#ef5350"/><rect x="359.37" y="414.7" width="1.84" height="9.4" fill="#ef5350"/><rect x="361.39" y="414.7" width="1.84" height="8.6" fill="#26a69a"/><rect x="363.42" y="398.4" width="1.84" height="17.2" fill="#26a69a"/><rect x="365.44" y="397.5" width="1.84" height="6.0" fill="#26a69a"/><rect x="367.47" y="395.8" width="1.84" height="3.4" fill="#26a69a"/><rect x="369.50" y="395.8" width="1.84" height="1.7" fill="#ef5350"/><rect x="371.52" y="390.6" width="1.84" height="6.9" fill="#26a69a"/><rect x="373.55" y="388.9" width="1.84" height="3.4" fill="#26a69a"/><rect x="375.57" y="378.6" width="1.84" height="11.2" fill="#26a69a"/><rect x="377.60" y="372.6" width="1.84" height="6.0" fill="#26a69a"/><rect x="379.62" y="371.8" width="1.84" height="2.6" fill="#26a69a"/><rect x="381.65" y="372.6" width="1.84" height="10.3" fill="#ef5350"/><rect x="383.68" y="372.6" width="1.84" height="9.4" fill="#ef5350"/><rect x="385.70" y="379.5" width="1.84" height="3.4" fill="#26a69a"/><rect x="387.73" y="379.5" width="1.84" height="21.5" fill="#ef5350"/><rect x="389.75" y="395.8" width="1.84" height="5.2" fill="#ef5350"/><rect x="391.78" y="392.4" width="1.84" height="4.3" fill="#26a69a"/><rect x="393.81" y="392.4" width="1.84" height="22.3" fill="#ef5350"/><rect x="395.83" y="388.9" width="1.84" height="27.5" fill="#26a69a"/><rect x="397.86" y="382.1" width="1.84" height="6.9" fill="#26a69a"/><rect x="399.88" y="370.9" width="1.84" height="11.2" fill="#26a69a"/><rect x="401.91" y="367.5" width="1.84" height="4.3" fill="#26a69a"/><rect x="403.93" y="366.6" width="1.84" height="4.3" fill="#26a69a"/><rect x="405.96" y="360.6" width="1.84" height="5.2" fill="#ef5350"/><rect x="407.99" y="362.3" width="1.84" height="8.6" fill="#ef5350"/><rect x="410.01" y="370.9" width="1.84" height="12.0" fill="#ef5350"/><rect x="412.04" y="382.1" width="1.84" height="4.3" fill="#ef5350"/><rect x="414.06" y="385.5" width="1.84" height="10.3" fill="#ef5350"/><rect x="416.09" y="391.5" width="1.84" height="6.9" fill="#26a69a"/><rect x="418.11" y="397.5" width="1.84" height="8.6" fill="#ef5350"/><rect x="420.14" y="394.1" width="1.84" height="12.0" fill="#26a69a"/><rect x="422.17" y="371.8" width="1.84" height="22.3" fill="#26a69a"/><rect x="424.19" y="347.7" width="1.84" height="24.9" fill="#26a69a"/><rect x="426.22" y="332.7" width="1.84" height="21.9" fill="#26a69a"/><rect x="428.24" y="332.7" width="1.84" height="19.4" fill="#ef5350"/><rect x="430.27" y="334.4" width="1.84" height="5.2" fill="#ef5350"/><rect x="432.30" y="331.8" width="1.84" height="6.9" fill="#26a69a"/><rect x="434.32" y="326.7" width="1.84" height="6.9" fill="#26a69a"/><rect x="436.35" y="330.1" width="1.84" height="24.5" fill="#ef5350"/><rect x="438.37" y="354.1" width="1.84" height="11.6" fill="#ef5350"/><rect x="440.40" y="365.8" width="1.84" height="8.6" fill="#ef5350"/><rect x="442.42" y="368.3" width="1.84" height="5.2" fill="#26a69a"/><rect x="444.45" y="368.3" width="1.84" height="4.3" fill="#ef5350"/><rect x="446.48" y="367.5" width="1.84" height="4.3" fill="#26a69a"/><rect x="448.50" y="361.5" width="1.84" height="6.9" fill="#26a69a"/><rect x="450.53" y="360.6" width="1.84" height="2.6" fill="#26a69a"/><rect x="452.55" y="360.6" width="1.84" height="2.6" fill="#ef5350"/><rect x="454.58" y="360.6" width="1.84" height="1.7" fill="#26a69a"/><rect x="456.60" y="356.3" width="1.84" height="6.0" fill="#26a69a"/><rect x="458.63" y="361.5" width="1.84" height="6.9" fill="#ef5350"/><rect x="460.66" y="361.2" width="1.84" height="10.3" fill="#ef5350"/><rect x="462.68" y="364.6" width="1.84" height="8.8" fill="#ef5350"/><rect x="464.71" y="358.6" width="1.84" height="14.0" fill="#26a69a"/><rect x="466.73" y="348.1" width="1.84" height="13.1" fill="#26a69a"/><rect x="468.76" y="350.9" width="1.84" height="6.0" fill="#ef5350"/><rect x="470.79" y="354.3" width="1.84" height="6.9" fill="#26a69a"/><rect x="472.81" y="353.5" width="1.84" height="9.4" fill="#ef5350"/><rect x="474.84" y="360.3" width="1.84" height="4.3" fill="#26a69a"/><rect x="476.86" y="356.9" width="1.84" height="14.6" fill="#ef5350"/><rect x="478.89" y="356.1" width="1.84" height="4.3" fill="#26a69a"/><rect x="480.91" y="356.9" width="1.84" height="12.0" fill="#ef5350"/><rect x="482.94" y="360.3" width="1.84" height="46.0" fill="#ef5350"/><rect x="484.97" y="398.6" width="1.84" height="8.1" fill="#26a69a"/><rect x="486.99" y="384.4" width="1.84" height="17.2" fill="#26a69a"/><rect x="489.02" y="382.7" width="1.84" height="6.0" fill="#26a69a"/><rect x="491.04" y="383.5" width="1.84" height="6.0" fill="#ef5350"/><rect x="493.07" y="388.7" width="1.84" height="3.4" fill="#ef5350"/><rect x="495.10" y="389.5" width="1.84" height="11.2" fill="#ef5350"/><rect x="497.12" y="396.0" width="1.84" height="6.0" fill="#26a69a"/><rect x="499.15" y="371.5" width="1.84" height="25.4" fill="#26a69a"/><rect x="501.17" y="371.5" width="1.84" height="19.7" fill="#ef5350"/><rect x="503.20" y="390.4" width="1.84" height="5.2" fill="#ef5350"/><rect x="505.22" y="393.8" width="1.84" height="2.6" fill="#ef5350"/><rect x="507.25" y="395.5" width="1.84" height="3.4" fill="#ef5350"/><rect x="509.28" y="395.2" width="1.84" height="3.8" fill="#ef5350"/><rect x="511.30" y="396.0" width="1.84" height="6.0" fill="#ef5350"/><rect x="513.33" y="400.3" width="1.84" height="13.8" fill="#ef5350"/><rect x="515.35" y="412.3" width="1.84" height="5.2" fill="#ef5350"/><rect x="517.38" y="406.3" width="1.84" height="11.2" fill="#26a69a"/><rect x="519.40" y="406.3" width="1.84" height="23.2" fill="#26a69a"/><rect x="521.43" y="415.8" width="1.84" height="5.2" fill="#ef5350"/><rect x="523.46" y="415.8" width="1.84" height="5.2" fill="#ef5350"/><rect x="525.48" y="420.9" width="1.84" height="24.0" fill="#ef5350"/><rect x="527.51" y="444.9" width="1.84" height="8.6" fill="#26a69a"/><rect x="529.53" y="444.1" width="1.84" height="5.2" fill="#26a69a"/><rect x="531.56" y="403.3" width="1.84" height="41.7" fill="#26a69a"/><rect x="533.59" y="402.4" width="1.84" height="6.9" fill="#ef5350"/><rect x="535.61" y="408.4" width="1.84" height="12.5" fill="#ef5350"/><rect x="537.64" y="411.5" width="1.84" height="6.0" fill="#ef5350"/><rect x="539.66" y="403.3" width="1.84" height="10.8" fill="#26a69a"/><rect x="541.69" y="398.6" width="1.84" height="6.0" fill="#26a69a"/><rect x="543.71" y="378.4" width="1.84" height="20.6" fill="#26a69a"/><rect x="545.74" y="376.7" width="1.84" height="2.6" fill="#26a69a"/><rect x="547.77" y="377.5" width="1.84" height="13.7" fill="#ef5350"/><rect x="549.79" y="386.1" width="1.84" height="2.6" fill="#ef5350"/><rect x="551.82" y="387.0" width="1.84" height="6.0" fill="#26a69a"/><rect x="553.84" y="387.8" width="1.84" height="9.9" fill="#ef5350"/><rect x="555.87" y="391.7" width="1.84" height="9.0" fill="#ef5350"/><rect x="557.89" y="395.5" width="1.84" height="3.4" fill="#ef5350"/><rect x="559.92" y="396.0" width="1.84" height="2.6" fill="#ef5350"/><rect x="561.95" y="396.0" width="1.84" height="3.4" fill="#ef5350"/><rect x="563.97" y="396.9" width="1.84" height="3.8" fill="#ef5350"/><rect x="566.00" y="385.2" width="1.84" height="15.9" fill="#26a69a"/><rect x="568.02" y="385.2" width="1.84" height="24.0" fill="#ef5350"/><rect x="570.05" y="402.9" width="1.84" height="8.6" fill="#26a69a"/><rect x="572.08" y="402.0" width="1.84" height="46.4" fill="#ef5350"/><rect x="574.10" y="448.4" width="1.84" height="9.4" fill="#ef5350"/><rect x="576.13" y="444.1" width="1.84" height="13.7" fill="#26a69a"/><rect x="578.15" y="430.3" width="1.84" height="13.7" fill="#26a69a"/><rect x="580.18" y="421.8" width="1.84" height="8.6" fill="#26a69a"/><rect x="582.20" y="412.3" width="1.84" height="9.4" fill="#26a69a"/><rect x="584.23" y="402.0" width="1.84" height="10.3" fill="#26a69a"/><rect x="586.26" y="396.0" width="1.84" height="18.1" fill="#26a69a"/><rect x="588.28" y="395.5" width="1.84" height="13.7" fill="#26a69a"/><rect x="590.31" y="385.2" width="1.84" height="10.3" fill="#26a69a"/><rect x="592.33" y="371.5" width="1.84" height="13.7" fill="#26a69a"/><rect x="594.36" y="356.1" width="1.84" height="15.5" fill="#26a69a"/><rect x="596.39" y="348.3" width="1.84" height="8.6" fill="#26a69a"/><rect x="598.41" y="341.5" width="1.84" height="7.7" fill="#26a69a"/><rect x="600.44" y="341.8" width="1.84" height="18.9" fill="#ef5350"/><rect x="602.46" y="350.3" width="1.84" height="11.2" fill="#ef5350"/><rect x="604.49" y="359.8" width="1.84" height="8.6" fill="#ef5350"/><rect x="606.51" y="367.5" width="1.84" height="4.3" fill="#ef5350"/><rect x="608.54" y="364.1" width="1.84" height="9.4" fill="#26a69a"/><rect x="610.57" y="361.5" width="1.84" height="3.4" fill="#26a69a"/><rect x="612.59" y="346.9" width="1.84" height="16.3" fill="#26a69a"/><rect x="614.62" y="346.9" width="1.84" height="18.0" fill="#ef5350"/><rect x="616.64" y="354.6" width="1.84" height="9.4" fill="#26a69a"/><rect x="618.67" y="350.3" width="1.84" height="6.0" fill="#26a69a"/><rect x="620.69" y="348.6" width="1.84" height="2.6" fill="#26a69a"/><rect x="622.72" y="348.6" width="1.84" height="7.7" fill="#ef5350"/><rect x="624.75" y="346.9" width="1.84" height="3.4" fill="#26a69a"/><rect x="626.77" y="353.8" width="1.84" height="12.0" fill="#ef5350"/><rect x="628.80" y="354.6" width="1.84" height="11.2" fill="#ef5350"/><rect x="630.82" y="355.5" width="1.84" height="4.3" fill="#26a69a"/><rect x="632.85" y="350.3" width="1.84" height="5.2" fill="#26a69a"/><rect x="634.88" y="350.3" width="1.84" height="7.7" fill="#ef5350"/><rect x="636.90" y="351.2" width="1.84" height="7.7" fill="#26a69a"/><rect x="638.93" y="346.1" width="1.84" height="6.9" fill="#ef5350"/><rect x="640.95" y="352.1" width="1.84" height="9.4" fill="#ef5350"/><rect x="642.98" y="360.6" width="1.84" height="4.3" fill="#ef5350"/><rect x="645.00" y="364.1" width="1.84" height="6.0" fill="#ef5350"/><rect x="647.03" y="370.1" width="1.84" height="16.3" fill="#ef5350"/></g>
<line x1="0" x2="864" y1="387.2" y2="387.2" stroke="#5c5f6a" stroke-width="1.1"/>
<line x1="0" x2="864" y1="387.2" y2="387.2" stroke="#a6a9b2" stroke-width="1.1" stroke-dasharray="1.1 1.0"/>
<line x1="-0.1" x2="897" y1="31.8" y2="31.8" stroke="#e60000" stroke-width="2" stroke-dasharray="6.4 4.9"/>
<line x1="224" x2="897" y1="267.3" y2="267.3" stroke="#f9f400" stroke-width="1.6" stroke-dasharray="6.4 4.9"/>
<line x1="325.2" x2="897" y1="465.6" y2="465.6" stroke="#f9f400" stroke-width="1.6" stroke-dasharray="6.4 4.9"/>
<line x1="445.3" x2="897" y1="347.0" y2="347.0" stroke="#10e410" stroke-width="1.8" stroke-dasharray="6.4 4.9"/>
<g fill="none" stroke-linecap="butt" stroke-linejoin="round">
<path d="M573.3 448.4 L601.9 323.2 M577.3 460.7 L605.8 335.4" stroke="#e9da7c" stroke-width="1.7" opacity="0.75"/>
<path d="M573.3 448.4 L601.9 323.2 M577.3 460.7 L605.8 335.4" stroke="#fffdee" stroke-width="0.85"/>
<path d="M597.1 328.8 L601.9 323.0 L603.5 331.1" stroke="#fffbe0" stroke-width="1.4"/>
<path d="M601.6 339.8 L605.8 335.2 L607.7 342.7" stroke="#fffbe0" stroke-width="1.4"/>
<path d="M607.7 339.6 H684.6 M680 335.3 L684.9 339.6 L680 343.9" stroke="#ffffff" stroke-width="1.5"/>
<path d="M609.8 373 H649" stroke="#ffffff" stroke-width="1.5"/>
<path d="M648.5 373 H684.6" stroke="#efe07a" stroke-width="2.1"/>
<path d="M648.5 373 H684.6" stroke="#fffce6" stroke-width="0.9"/>
<path d="M680 368.7 L684.9 373 L680 377.3" stroke="#ffffff" stroke-width="1.5"/>
</g>
<rect x="897" y="0" width="35" height="528" fill="#131722"/>
<rect x="0" y="529" width="932" height="21" fill="#131722"/>
<rect x="896.05" y="0" width="1.75" height="550" fill="#767985"/>
<rect x="0" y="527.15" width="932" height="1.75" fill="#767985"/>
<rect x="898" y="492.1" width="1.6" height="1.2" fill="#767985"/>
<text x="902.4" y="496.4" font-size="9.5" fill="#179999" font-family="Liberation Sans, sans-serif" textLength="24.6" lengthAdjust="spacingAndGlyphs" stroke="#179999" stroke-width="0.35" stroke-linejoin="round">106.000</text>
<rect x="898" y="455.7" width="1.6" height="1.2" fill="#767985"/>
<text x="902.4" y="460.0" font-size="9.5" fill="#179999" font-family="Liberation Sans, sans-serif" textLength="24.6" lengthAdjust="spacingAndGlyphs" stroke="#179999" stroke-width="0.35" stroke-linejoin="round">107.000</text>
<rect x="898" y="419.2" width="1.6" height="1.2" fill="#767985"/>
<text x="902.4" y="423.5" font-size="9.5" fill="#179999" font-family="Liberation Sans, sans-serif" textLength="24.6" lengthAdjust="spacingAndGlyphs" stroke="#179999" stroke-width="0.35" stroke-linejoin="round">108.000</text>
<rect x="898" y="382.8" width="1.6" height="1.2" fill="#767985"/>
<text x="902.4" y="387.1" font-size="9.5" fill="#179999" font-family="Liberation Sans, sans-serif" textLength="24.6" lengthAdjust="spacingAndGlyphs" stroke="#179999" stroke-width="0.35" stroke-linejoin="round">109.000</text>
<rect x="898" y="346.4" width="1.6" height="1.2" fill="#767985"/>
<text x="902.4" y="350.7" font-size="9.5" fill="#179999" font-family="Liberation Sans, sans-serif" textLength="24.6" lengthAdjust="spacingAndGlyphs" stroke="#179999" stroke-width="0.35" stroke-linejoin="round">110.000</text>
<rect x="898" y="310.0" width="1.6" height="1.2" fill="#767985"/>
<text x="902.4" y="314.3" font-size="9.5" fill="#179999" font-family="Liberation Sans, sans-serif" textLength="24.6" lengthAdjust="spacingAndGlyphs" stroke="#179999" stroke-width="0.35" stroke-linejoin="round">111.000</text>
<rect x="898" y="273.6" width="1.6" height="1.2" fill="#767985"/>
<text x="902.4" y="277.9" font-size="9.5" fill="#179999" font-family="Liberation Sans, sans-serif" textLength="24.6" lengthAdjust="spacingAndGlyphs" stroke="#179999" stroke-width="0.35" stroke-linejoin="round">112.000</text>
<rect x="898" y="237.2" width="1.6" height="1.2" fill="#767985"/>
<text x="902.4" y="241.5" font-size="9.5" fill="#179999" font-family="Liberation Sans, sans-serif" textLength="24.6" lengthAdjust="spacingAndGlyphs" stroke="#179999" stroke-width="0.35" stroke-linejoin="round">113.000</text>
<rect x="898" y="200.8" width="1.6" height="1.2" fill="#767985"/>
<text x="902.4" y="205.1" font-size="9.5" fill="#179999" font-family="Liberation Sans, sans-serif" textLength="24.6" lengthAdjust="spacingAndGlyphs" stroke="#179999" stroke-width="0.35" stroke-linejoin="round">114.000</text>
<rect x="898" y="164.3" width="1.6" height="1.2" fill="#767985"/>
<text x="902.4" y="168.6" font-size="9.5" fill="#179999" font-family="Liberation Sans, sans-serif" textLength="24.6" lengthAdjust="spacingAndGlyphs" stroke="#179999" stroke-width="0.35" stroke-linejoin="round">115.000</text>
<rect x="898" y="127.9" width="1.6" height="1.2" fill="#767985"/>
<text x="902.4" y="132.2" font-size="9.5" fill="#179999" font-family="Liberation Sans, sans-serif" textLength="24.6" lengthAdjust="spacingAndGlyphs" stroke="#179999" stroke-width="0.35" stroke-linejoin="round">116.000</text>
<rect x="898" y="91.5" width="1.6" height="1.2" fill="#767985"/>
<text x="902.4" y="95.8" font-size="9.5" fill="#179999" font-family="Liberation Sans, sans-serif" textLength="24.6" lengthAdjust="spacingAndGlyphs" stroke="#179999" stroke-width="0.35" stroke-linejoin="round">117.000</text>
<rect x="898" y="55.1" width="1.6" height="1.2" fill="#767985"/>
<text x="902.4" y="59.4" font-size="9.5" fill="#179999" font-family="Liberation Sans, sans-serif" textLength="24.6" lengthAdjust="spacingAndGlyphs" stroke="#179999" stroke-width="0.35" stroke-linejoin="round">118.000</text>
<rect x="898" y="18.7" width="1.6" height="1.2" fill="#767985"/>
<text x="902.4" y="23.0" font-size="9.5" fill="#179999" font-family="Liberation Sans, sans-serif" textLength="24.6" lengthAdjust="spacingAndGlyphs" stroke="#179999" stroke-width="0.35" stroke-linejoin="round">119.000</text>
<rect x="5.7" y="529" width="1.2" height="1.6" fill="#767985"/>
<text x="0.4" y="542.7" font-size="9.8" fill="#179999" font-family="Liberation Sans, sans-serif" textLength="12" lengthAdjust="spacingAndGlyphs" stroke="#179999" stroke-width="0.4" stroke-linejoin="round">Sep</text>
<rect x="92.9" y="529" width="1.2" height="1.6" fill="#767985"/>
<text x="87.5" y="542.7" font-size="9.8" fill="#179999" font-family="Liberation Sans, sans-serif" textLength="12" lengthAdjust="spacingAndGlyphs" stroke="#179999" stroke-width="0.4" stroke-linejoin="round">Nov</text>
<rect x="177.7" y="529" width="1.2" height="1.6" fill="#767985"/>
<text x="170.1" y="542.7" font-size="9.8" fill="#179999" font-family="Liberation Sans, sans-serif" textLength="16.5" lengthAdjust="spacingAndGlyphs" font-weight="bold" stroke="#179999" stroke-width="0.2" stroke-linejoin="round">2019</text>
<rect x="262.9" y="529" width="1.2" height="1.6" fill="#767985"/>
<text x="257.4" y="542.7" font-size="9.8" fill="#179999" font-family="Liberation Sans, sans-serif" textLength="12.3" lengthAdjust="spacingAndGlyphs" stroke="#179999" stroke-width="0.4" stroke-linejoin="round">Mar</text>
<rect x="350.6" y="529" width="1.2" height="1.6" fill="#767985"/>
<text x="344.8" y="542.7" font-size="9.8" fill="#179999" font-family="Liberation Sans, sans-serif" textLength="13" lengthAdjust="spacingAndGlyphs" stroke="#179999" stroke-width="0.4" stroke-linejoin="round">May</text>
<rect x="396.6" y="529" width="1.2" height="1.6" fill="#767985"/>
<text x="391.2" y="542.7" font-size="9.8" fill="#179999" font-family="Liberation Sans, sans-serif" textLength="12" lengthAdjust="spacingAndGlyphs" stroke="#179999" stroke-width="0.4" stroke-linejoin="round">Jun</text>
<rect x="483.6" y="529" width="1.2" height="1.6" fill="#767985"/>
<text x="478.2" y="542.7" font-size="9.8" fill="#179999" font-family="Liberation Sans, sans-serif" textLength="12" lengthAdjust="spacingAndGlyphs" stroke="#179999" stroke-width="0.4" stroke-linejoin="round">Aug</text>
<rect x="571.5" y="529" width="1.2" height="1.6" fill="#767985"/>
<text x="566.5" y="542.7" font-size="9.8" fill="#179999" font-family="Liberation Sans, sans-serif" textLength="11.3" lengthAdjust="spacingAndGlyphs" stroke="#179999" stroke-width="0.4" stroke-linejoin="round">Oct</text>
<rect x="617.9" y="529" width="1.2" height="1.6" fill="#767985"/>
<text x="612.5" y="542.7" font-size="9.8" fill="#179999" font-family="Liberation Sans, sans-serif" textLength="12" lengthAdjust="spacingAndGlyphs" stroke="#179999" stroke-width="0.4" stroke-linejoin="round">Nov</text>
<rect x="704.6" y="529" width="1.2" height="1.6" fill="#767985"/>
<text x="696.8" y="542.7" font-size="9.8" fill="#179999" font-family="Liberation Sans, sans-serif" textLength="17" lengthAdjust="spacingAndGlyphs" font-weight="bold" stroke="#179999" stroke-width="0.2" stroke-linejoin="round">2020</text>
<rect x="751.6" y="529" width="1.2" height="1.6" fill="#767985"/>
<text x="746.4" y="542.7" font-size="9.8" fill="#179999" font-family="Liberation Sans, sans-serif" textLength="11.8" lengthAdjust="spacingAndGlyphs" stroke="#179999" stroke-width="0.4" stroke-linejoin="round">Feb</text>
<rect x="836.6" y="529" width="1.2" height="1.6" fill="#767985"/>
<text x="831.4" y="542.7" font-size="9.8" fill="#179999" font-family="Liberation Sans, sans-serif" textLength="11.8" lengthAdjust="spacingAndGlyphs" stroke="#179999" stroke-width="0.4" stroke-linejoin="round">Apr</text>
<rect x="896" y="23.9" width="36" height="15.6" fill="#f20000"/>
<text x="902.4" y="33.8" font-size="9.5" fill="#ffffff" font-family="Liberation Sans, sans-serif" textLength="24.6" lengthAdjust="spacingAndGlyphs" stroke="#ffffff" stroke-width="0.12" stroke-linejoin="round">118.658</text>
<rect x="896" y="259.3" width="36" height="15.6" fill="#f8f400"/>
<text x="902.4" y="269.2" font-size="9.5" fill="#15171c" font-family="Liberation Sans, sans-serif" textLength="24.6" lengthAdjust="spacingAndGlyphs" stroke="#15171c" stroke-width="0.12" stroke-linejoin="round">112.189</text>
<rect x="896" y="339.2" width="36" height="15.6" fill="#12de12"/>
<text x="902.4" y="349.1" font-size="9.5" fill="#15171c" font-family="Liberation Sans, sans-serif" textLength="24.6" lengthAdjust="spacingAndGlyphs" stroke="#15171c" stroke-width="0.12" stroke-linejoin="round">109.991</text>
<rect x="896" y="457.7" width="36" height="15.6" fill="#f8f400"/>
<text x="902.4" y="467.6" font-size="9.5" fill="#15171c" font-family="Liberation Sans, sans-serif" textLength="24.6" lengthAdjust="spacingAndGlyphs" stroke="#15171c" stroke-width="0.12" stroke-linejoin="round">106.734</text>
<rect x="864" y="379" width="68" height="16" fill="#ffffff"/>
<rect x="896.4" y="379" width="1.1" height="16" fill="#6a6e7a"/>
<rect x="898" y="386.5" width="2.5" height="1" fill="#8f929b"/>
<text x="868.8" y="389.8" font-size="9.5" fill="#4f535f" font-family="Liberation Sans, sans-serif" textLength="23.5" lengthAdjust="spacingAndGlyphs" stroke="#4f535f" stroke-width="0.25" stroke-linejoin="round">CHFJPY</text>
<text x="902.3" y="389.8" font-size="9.5" fill="#4f535f" font-family="Liberation Sans, sans-serif" textLength="24.5" lengthAdjust="spacingAndGlyphs" stroke="#4f535f" stroke-width="0.25" stroke-linejoin="round">108.903</text>
</svg></body></html>
